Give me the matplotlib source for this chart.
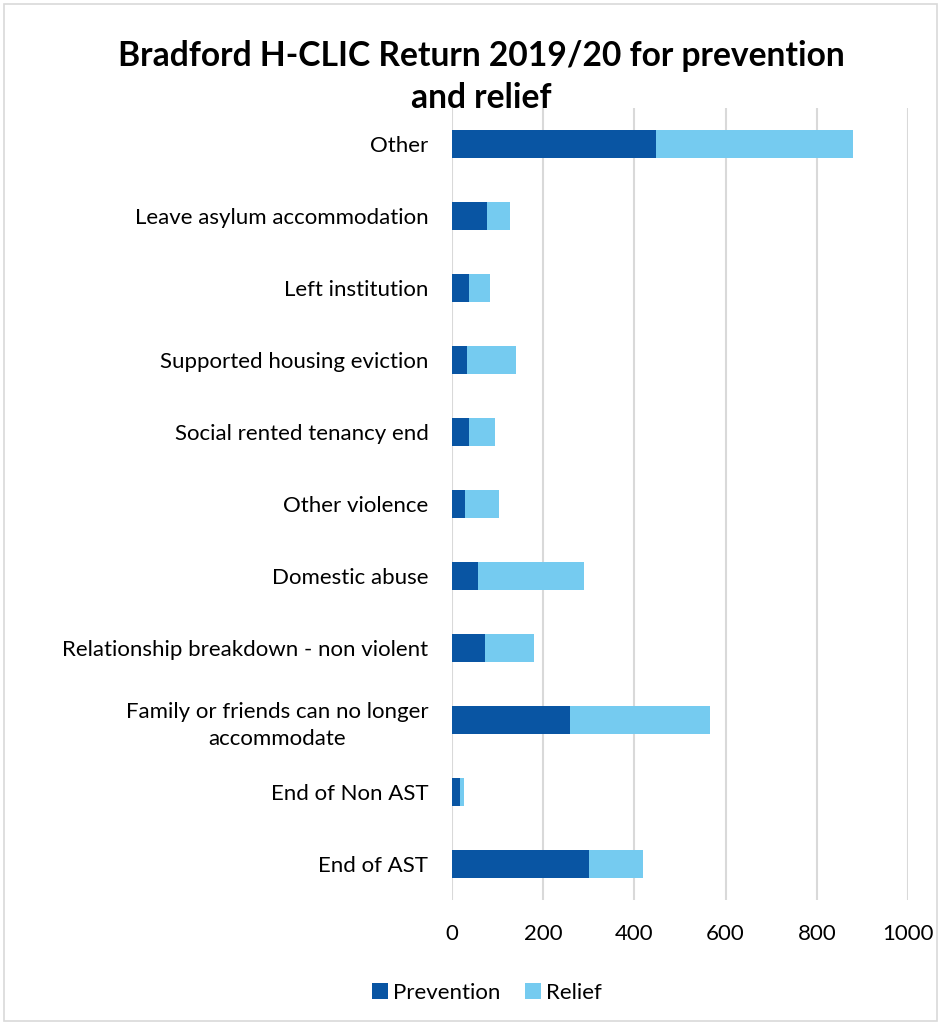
import numpy as np
import matplotlib.pyplot as plt
from matplotlib.patches import Rectangle

plt.rcParams['font.family'] = ['Lato', 'DejaVu Sans']

# Data (bottom to top)
categories = ['End of AST', 'End of Non AST',
              'Family or friends can no longer\naccommodate',
              'Relationship breakdown - non violent', 'Domestic abuse',
              'Other violence', 'Social rented tenancy end',
              'Supported housing eviction', 'Left institution',
              'Leave asylum accommodation', 'Other']
prevention = [300, 17, 259, 72, 57, 28, 38, 33, 38, 77, 448]
relief = [119, 9, 306, 108, 233, 76, 56, 108, 45, 51, 432]
xticks = [0, 200, 400, 600, 800, 1000]

c_prev = '#0955a3'
c_rel = '#75cbf0'

fig = plt.figure(figsize=(9.41, 10.23), dpi=100)
ax = fig.add_axes([452 / 941, 1 - 900 / 1023, 456 / 941, 792 / 1023])

y = np.arange(len(categories))
ax.barh(y, prevention, height=0.4, color=c_prev, label='Prevention', zorder=2)
ax.barh(y, relief, left=prevention, height=0.4, color=c_rel, label='Relief', zorder=2)

ax.set_xlim(0, 1000)
ax.set_ylim(-0.5, len(categories) - 0.5)
ax.set_xticks(xticks)
ax.set_yticks(y)
ax.set_yticklabels(categories, multialignment='center')
for t in ax.get_yticklabels():
    t.set_linespacing(1.45)
ax.tick_params(axis='both', length=0, labelsize=16, colors='#000000')
ax.tick_params(axis='x', pad=17)
ax.tick_params(axis='y', pad=17)
ax.grid(axis='x', color='#d9d9d9', linewidth=1.5, zorder=0)
for s in ax.spines.values():
    s.set_visible(False)

fig.text(481 / 941, 1 - 77 / 1023, 'Bradford H-CLIC Return 2019/20 for prevention\nand relief',
         ha='center', va='center', fontsize=24.2, fontweight='bold', linespacing=1.37)

ax.legend(loc='center', bbox_to_anchor=(487 / 941, 1 - 993 / 1023),
          bbox_transform=fig.transFigure, ncol=2, frameon=False, fontsize=16,
          handlelength=0.7, handleheight=0.7, handletextpad=0.25, columnspacing=1.1)

fig.patches.append(Rectangle((4 / 941, 0.002), 1 - 8 / 941, 0.994, transform=fig.transFigure,
                             fill=False, edgecolor='#d9d9d9', linewidth=1.2))

fig.savefig('out.png', dpi=100)
